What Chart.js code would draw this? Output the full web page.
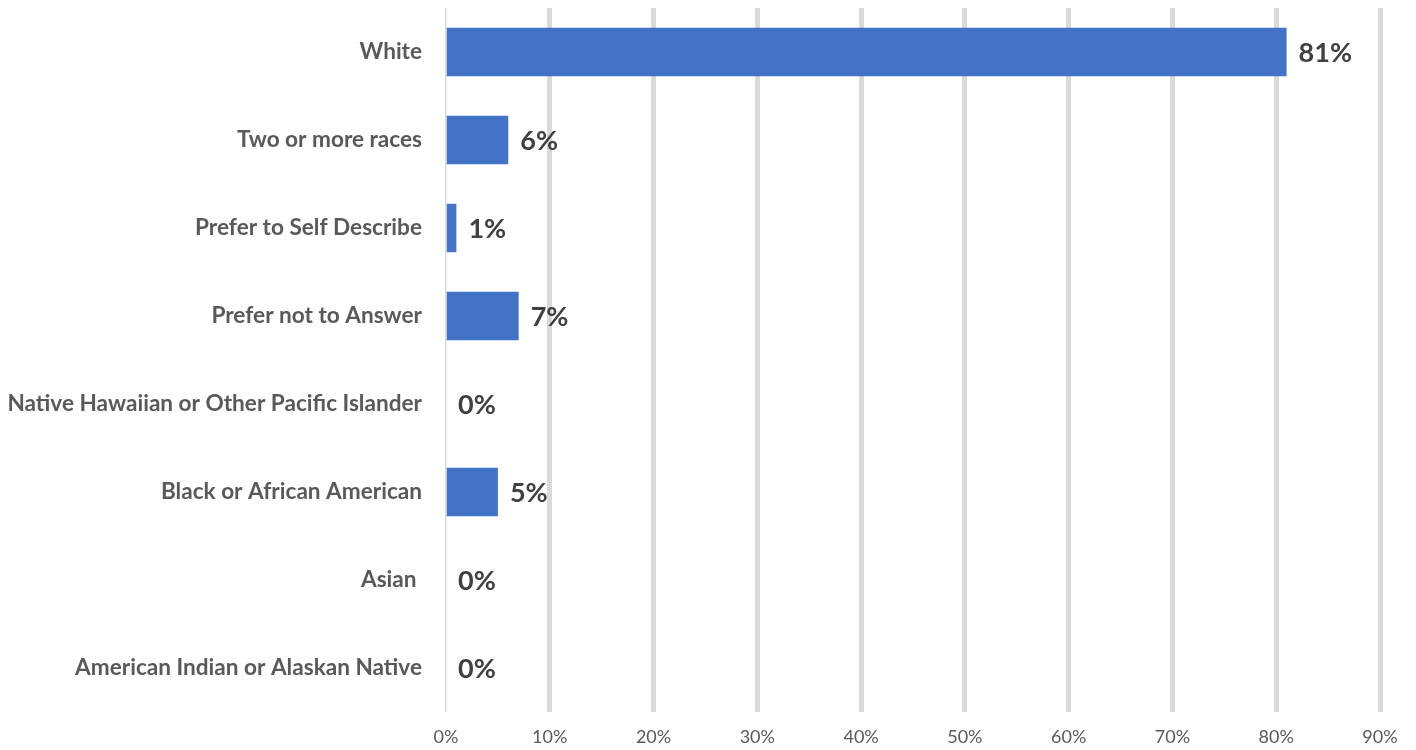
<!DOCTYPE html>
<html lang="en">
<head>
    <meta charset="UTF-8">
    <title>Race / Ethnicity</title>
    <script src="https://cdn.jsdelivr.net/npm/chart.js@4/dist/chart.umd.min.js"></script>
    <style>
        html, body { margin: 0; padding: 0; background: #fff; }
        #wrap { width: 1416px; height: 750px; }
    </style>
</head>
<body>
    <div id="wrap"><canvas id="raceChart"></canvas></div>

    <script>
        // カテゴリと割合(%)
        const categories = [
            'White',
            'Two or more races',
            'Prefer to Self Describe',
            'Prefer not to Answer',
            'Native Hawaiian or Other Pacific Islander',
            'Black or African American',
            'Asian ',
            'American Indian or Alaskan Native'
        ];
        const percents = [81, 6, 1, 7, 0, 5, 0, 0];
        const tickValues = [0, 10, 20, 30, 40, 50, 60, 70, 80, 90];

        const FONT = 'Lato, "Open Sans", sans-serif';

        // バーの右側に値ラベルを描く
        const valueLabels = {
            id: 'valueLabels',
            afterDatasetsDraw(chart) {
                const ctx = chart.ctx;
                const meta = chart.getDatasetMeta(0);
                ctx.save();
                ctx.font = 'bold 27px ' + FONT;
                ctx.fillStyle = '#404040';
                ctx.textAlign = 'left';
                ctx.textBaseline = 'middle';
                meta.data.forEach((bar, i) => {
                    ctx.fillText(percents[i] + '%', bar.x + 12, bar.y + 1);
                });
                ctx.restore();
            }
        };

        new Chart(document.getElementById('raceChart'), {
            type: 'bar',
            data: {
                labels: categories,
                datasets: [{
                    data: percents,
                    backgroundColor: '#4472c4',
                    borderWidth: 0,
                    barPercentage: 0.55,
                    categoryPercentage: 1
                }]
            },
            options: {
                indexAxis: 'y',
                responsive: true,
                maintainAspectRatio: false,
                animation: false,
                layout: { padding: { top: 8, right: 36, bottom: 0, left: 0 } },
                plugins: {
                    legend: { display: false },
                    tooltip: { enabled: false }
                },
                scales: {
                    x: {
                        min: 0,
                        max: 90,
                        afterBuildTicks(scale) {
                            scale.ticks = tickValues.map(v => ({ value: v }));
                        },
                        afterFit(scale) { scale.height = 38; },
                        border: { display: false },
                        grid: {
                            color: '#d9d9d9',
                            lineWidth: c => (c.index === 0 ? 1.5 : 5),
                            drawTicks: false
                        },
                        ticks: {
                            padding: 14,
                            color: '#595959',
                            font: { family: FONT, size: 18 },
                            callback: v => v + '%'
                        }
                    },
                    y: {
                        afterFit(scale) {
                            scale.width = 446;
                            // ラベル分の上下余白は不要
                            scale.paddingTop = 0;
                            scale.paddingBottom = 0;
                        },
                        border: { display: false },
                        grid: { display: false },
                        ticks: {
                            padding: 16,
                            color: '#595959',
                            font: { family: FONT, size: 22.6, weight: 'bold' }
                        }
                    }
                }
            },
            plugins: [valueLabels]
        });
    </script>
</body>
</html>
